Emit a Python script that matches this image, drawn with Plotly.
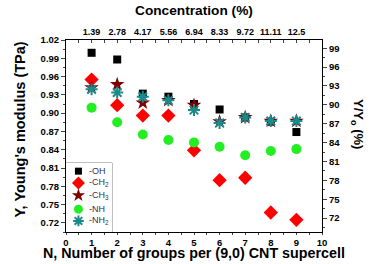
import plotly.graph_objects as go

n_groups = [1, 2, 3, 4, 5, 6, 7, 8, 9]
oh = [0.999, 0.988, 0.932, 0.927, 0.915, 0.906, 0.893, 0.886, 0.869]
ch2 = [0.955, 0.913, 0.896, 0.896, 0.839, 0.790, 0.794, 0.737, 0.725]
ch3 = [0.942, 0.947, 0.917, 0.921, 0.913, 0.886, 0.893, 0.887, 0.887]
nh = [0.909, 0.885, 0.865, 0.856, 0.852, 0.845, 0.831, 0.838, 0.841]
nh2 = [0.939, 0.934, 0.927, 0.921, 0.905, 0.884, 0.893, 0.887, 0.887]

conc_labels = ["1.39", "2.78", "4.17", "5.56", "6.94", "8.33", "9.72", "11.11", "12.5"]
series_names = ["-OH", "-CH<sub>2</sub>", "-CH<sub>3</sub>", "-NH", "-NH<sub>2</sub>"]
legend_rows = [4.4, 3.55, 2.65, 1.65, 0.8]

FONT = "Liberation Sans, Arial, sans-serif"
fig = go.Figure()

styles = [
    ("square", "black", 8, 7, None),
    ("diamond", "#ff0000", 11, 10, None),
    ("star", "#800000", 11, 10, None),
    ("circle", "#22ee22", 10, 9, None),
    ("asterisk-open", "#1a8a8a", 10, 9, 2),
]
all_vals = [oh, ch2, ch3, nh, nh2]
for name, vals, ry, (sym, col, sz, lsz, lw) in zip(series_names, all_vals, legend_rows, styles):
    line = dict(color=col, width=lw) if lw else dict(width=0)
    fig.add_trace(go.Scatter(x=n_groups, y=vals, mode="markers", name=name, showlegend=False,
                             marker=dict(symbol=sym, color=col, size=sz, line=line)))
    # legend marker on a hidden inset axis
    fig.add_trace(go.Scatter(x=[0.27], y=[ry], mode="markers",
                             xaxis="x3", yaxis="y3", showlegend=False, hoverinfo="skip",
                             marker=dict(symbol=sym, color=col, size=lsz, line=line)))

# invisible traces for secondary axes
fig.add_trace(go.Scatter(x=[0, 10], y=[None, None], xaxis="x2", yaxis="y", showlegend=False, hoverinfo="skip"))
fig.add_trace(go.Scatter(x=[None], y=[None], xaxis="x", yaxis="y2", showlegend=False, hoverinfo="skip"))

def bold(size):
    return dict(family=FONT, size=size, color="black", weight="bold")

annotations = [
    dict(text="Concentration (%)", x=0.5, y=0, xref="paper", yref="paper", yanchor="middle",
         yshift=222, showarrow=False, font=bold(13.7)),
    dict(text="N, Number of groups per (9,0) CNT supercell", x=0.5, y=0, xref="paper", yref="paper",
         yanchor="middle", yshift=-20.5, showarrow=False, font=bold(14.3)),
    dict(text="Y, Young's modulus (TPa)", x=0, y=0.534, xref="paper", yref="paper",
         xanchor="center", xshift=-46, textangle=-90, showarrow=False, font=bold(14.5)),
    dict(text="Y/Y<sub>o</sub> (%)", x=1, y=0.5625, xref="paper", yref="paper",
         xanchor="center", xshift=36, textangle=90, showarrow=False, font=bold(13)),
]
for name, ry in zip(series_names, legend_rows):
    annotations.append(dict(text=name, x=0.45, y=ry, xref="x3", yref="y3", xanchor="left",
                            yanchor="middle", showarrow=False,
                            font=dict(family=FONT, size=9, color="#333344")))

fig.update_layout(
    width=374, height=264,
    margin=dict(l=66, r=52, t=40, b=32, autoexpand=False),
    paper_bgcolor="white", plot_bgcolor="white",
    showlegend=False,
    xaxis=dict(range=[0, 10], tick0=0, dtick=1, ticks="outside", ticklen=2, automargin=False,
               showline=True, linecolor="black", linewidth=1, showgrid=False, zeroline=False,
               tickfont=bold(9.5), minor=dict(ticks="outside", dtick=0.5, ticklen=2)),
    xaxis2=dict(range=[0, 10], overlaying="x", side="top", anchor="y", automargin=False,
                tickmode="array", tickvals=n_groups, ticktext=conc_labels,
                ticks="inside", ticklen=3, showline=True, linecolor="black", linewidth=1,
                showgrid=False, zeroline=False, tickfont=bold(9),
                minor=dict(ticks="inside", tickvals=[i * 0.5 for i in range(21)], ticklen=3)),
    yaxis=dict(range=[0.705, 1.02], tick0=0.72, dtick=0.03, tickformat=".2f", automargin=False,
               ticks="outside", ticklen=4, showline=True, linecolor="black", linewidth=1,
               showgrid=False, zeroline=False, tickfont=bold(9.5),
               minor=dict(ticks="outside", dtick=0.015, ticklen=2)),
    yaxis2=dict(range=[69.8, 100.3], overlaying="y", side="right", anchor="x", automargin=False,
                tick0=72, dtick=3, ticks="outside", ticklen=4, showline=True,
                linecolor="black", linewidth=1, showgrid=False, zeroline=False,
                tickfont=bold(9.5), minor=dict(ticks="outside", dtick=1.5, ticklen=2)),
    xaxis3=dict(domain=[0, 0.18], range=[0, 1], anchor="y3", visible=False, fixedrange=True),
    yaxis3=dict(domain=[0, 0.36], range=[0, 5], anchor="x3", visible=False, fixedrange=True),
    shapes=[dict(type="rect", xref="paper", yref="paper", x0=0, x1=0.18, y0=0, y1=0.36,
                 line=dict(color="#888888", width=1), fillcolor="white", layer="below")],
    annotations=annotations,
)

fig.write_html("out.html", config={"displayModeBar": False},
               post_script="document.body.style.margin='0';document.body.style.overflow='hidden';")
